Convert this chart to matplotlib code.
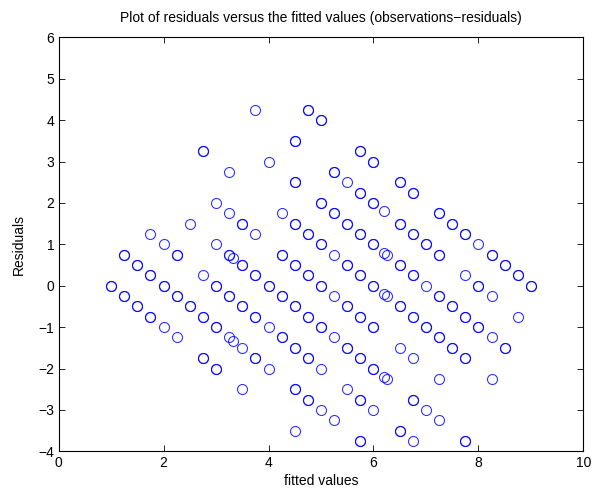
import matplotlib
matplotlib.use('Agg')
import matplotlib.pyplot as plt
import numpy as np

# fitted value, residual, and how many observations sit on that spot
fitted = [2.75, 3.25, 3.0, 3.25, 3.5, 2.5, 1.75, 2.0, 3.0, 3.75,
          4.75, 5.0, 4.5, 5.75, 6.0, 4.0, 5.25, 5.5, 4.5, 6.5,
          6.75, 5.75, 6.0, 5.0, 6.2, 4.25, 5.25, 4.5, 5.5, 6.5,
          3.75, 4.75, 5.75, 6.75, 5.0, 6.0, 7.25, 7.5, 7.75, 7.0,
          8.0,
          1.25, 2.25, 3.25, 3.33, 1.5, 2.75, 1.75, 1.0, 2.0,
          3.0, 1.25, 2.25, 3.25, 1.5, 2.5, 1.75, 2.75, 2.0, 3.0,
          2.25, 3.25, 3.33, 3.5, 2.75, 3.0, 3.5, 3.5, 3.75, 4.0,
          4.25, 4.5, 4.75, 5.0, 5.25, 5.5, 5.75, 6.0, 6.2, 6.25,
          6.5, 6.75, 3.5, 3.75, 4.0, 4.25, 4.5, 4.75, 5.0, 5.25,
          5.5, 5.75, 6.0, 6.2, 6.25, 6.5, 6.75, 3.75, 4.0, 4.25,
          4.5, 4.75, 5.0, 5.25, 5.5, 5.75, 6.0, 6.2, 6.25, 6.5,
          6.75, 4.5, 4.75, 5.0, 5.25, 5.5, 5.75, 6.0, 6.75, 4.5,
          5.75, 6.5, 6.75, 7.25, 8.25, 8.5, 8.75, 9.0, 7.0, 7.25,
          7.5, 7.75, 7.75, 8.0, 8.25, 8.75, 7.0, 7.25, 7.5, 7.75,
          8.0, 8.25, 8.5, 7.25, 8.25, 7.0, 7.25, 7.75]
residuals = [3.25, 2.75, 2.0, 1.75, 1.5, 1.5, 1.25, 1.0, 1.0, 4.25,
             4.25, 4.0, 3.5, 3.25, 3.0, 3.0, 2.75, 2.5, 2.5, 2.5,
             2.25, 2.25, 2.0, 2.0, 1.8, 1.75, 1.75, 1.5, 1.5, 1.5,
             1.25, 1.25, 1.25, 1.25, 1.0, 1.0, 1.75, 1.5, 1.25, 1.0,
             1.0,
             0.75, 0.75, 0.75, 0.67, 0.5, 0.25, 0.25, 0.0, 0.0,
             0.0, -0.25, -0.25, -0.25, -0.5, -0.5, -0.75, -0.75, -1.0, -1.0,
             -1.25, -1.25, -1.33, -1.5, -1.75, -2.0, -2.5, 0.5, 0.25, 0.0,
             0.75, 0.5, 0.25, 0.0, 0.75, 0.5, 0.25, 0.0, 0.8, 0.75,
             0.5, 0.25, -0.5, -0.75, -1.0, -0.25, -0.5, -0.75, -1.0, -0.25,
             -0.5, -0.75, -1.0, -0.2, -0.25, -0.5, -0.75, -1.75, -2.0, -1.25,
             -1.5, -1.75, -2.0, -1.25, -1.5, -1.75, -2.0, -2.2, -2.25, -1.5,
             -1.75, -2.5, -2.75, -3.0, -3.25, -2.5, -2.75, -3.0, -2.75, -3.5,
             -3.75, -3.5, -3.75, 0.75, 0.75, 0.5, 0.25, 0.0, 0.0, -0.25,
             -0.5, -0.75, 0.25, 0.0, -0.25, -0.75, -1.0, -1.25, -1.5, -1.75,
             -1.0, -1.25, -1.5, -2.25, -2.25, -3.0, -3.25, -3.75]
counts = [2, 1, 1, 1, 2, 1, 1, 1, 1, 1,
          2, 2, 2, 2, 2, 1, 2, 1, 2, 2,
          2, 2, 2, 2, 1, 1, 2, 2, 2, 2,
          1, 2, 2, 2, 2, 2, 2, 2, 2, 2,
          1,
          2, 2, 2, 1, 2, 1, 2, 2, 2,
          2, 2, 2, 2, 2, 2, 2, 2, 1, 2,
          1, 1, 1, 1, 2, 2, 1, 2, 2, 2,
          2, 2, 2, 2, 1, 2, 2, 2, 1, 1,
          2, 2, 2, 2, 1, 2, 2, 2, 2, 1,
          2, 2, 2, 1, 1, 2, 2, 2, 1, 2,
          2, 2, 1, 1, 2, 2, 2, 1, 1, 1,
          1, 2, 2, 1, 1, 1, 2, 1, 2, 1,
          2, 2, 1, 2, 2, 2, 2, 2, 1, 2,
          2, 2, 1, 2, 1, 1, 2, 2, 2, 2,
          2, 1, 2, 1, 1, 1, 1, 2]

x = np.repeat(fitted, counts)
y = np.repeat(residuals, counts)

plt.rcParams['font.family'] = ['Liberation Sans', 'DejaVu Sans']
plt.rcParams['font.size'] = 10

fig = plt.figure(figsize=(5.92, 4.93), dpi=100)
ax = fig.add_axes([0.0990, 0.0845, 0.8865, 0.8397])
ax.plot(x, y, 'o', markerfacecolor='none', markeredgecolor='b',
        markersize=7.2, markeredgewidth=0.8, alpha=0.8)

ax.set_xlim(0, 10)
ax.set_ylim(-4, 6)
ax.set_xticks(range(0, 11, 2))
ax.set_yticks(range(-4, 7))
ax.set_yticklabels([str(t).replace('-', '\u2212') for t in range(-4, 7)])
ax.tick_params(direction='in', top=True, right=True, length=4, width=0.6, pad=3)
for s in ax.spines.values():
    s.set_linewidth(0.8)

ax.set_title('Plot of residuals versus the fitted values (observations\u2212residuals)',
             fontsize=10, pad=11)
ax.set_xlabel('fitted values', labelpad=3)
ax.set_ylabel('Residuals', labelpad=9)

fig.savefig('out.png', dpi=100)
